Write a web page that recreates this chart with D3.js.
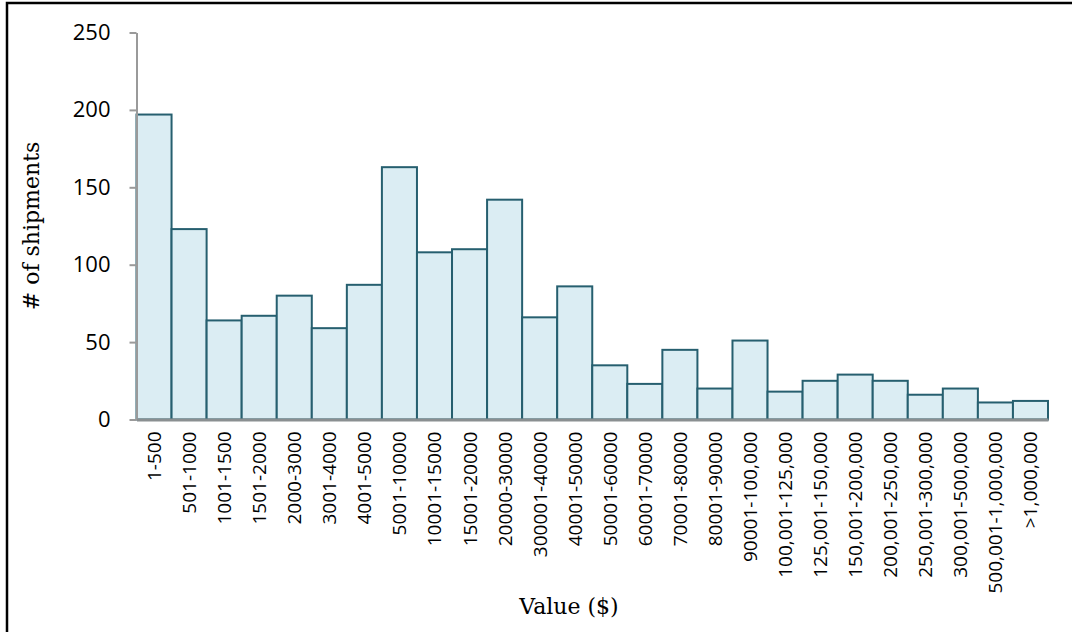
<!DOCTYPE html>
<html>
<head>
<meta charset="utf-8">
<script src="https://cdn.jsdelivr.net/npm/d3@7"></script>
<style>
  html, body { margin: 0; padding: 0; background: #fff; }
  svg { display: block; }
</style>
</head>
<body>
<svg id="chart" width="1072" height="632"></svg>
<script>
// Shipment counts by declared value band
const categories = [
  "1-500", "501-1000", "1001-1500", "1501-2000", "2000-3000", "3001-4000",
  "4001-5000", "5001-10000", "10001-15000", "15001-20000", "20000-30000",
  "300001-40000", "40001-50000", "50001-60000", "60001-70000", "70001-80000",
  "80001-90000", "90001-100,000", "100,001-125,000", "125,001-150,000",
  "150,001-200,000", "200,001-250,000", "250,001-300,000", "300,001-500,000",
  "500,001-1,000,000", ">1,000,000"
];
const shipments = [
  197, 123, 64, 67, 80, 59, 87, 163, 108, 110, 142, 66, 86,
  35, 23, 45, 20, 51, 18, 25, 29, 25, 16, 20, 11, 12
];
const yTicks = [0, 50, 100, 150, 200, 250];
const xTitle = "Value ($)";
const yTitle = "# of shipments";

const svg = d3.select("#chart");

// outer frame
svg.append("rect")
  .attr("x", 7).attr("y", 3)
  .attr("width", 1080).attr("height", 640)
  .attr("fill", "none")
  .attr("stroke", "#000")
  .attr("stroke-width", 2.5);

const plotLeft = 136.5, plotRight = 1048, plotTop = 32.5, plotBottom = 419.5;

const x = d3.scaleBand().domain(categories).range([plotLeft, plotRight]).padding(0);
const y = d3.scaleLinear().domain([0, 250]).range([plotBottom, plotTop]);

// bars
svg.append("g").selectAll("rect")
  .data(shipments)
  .join("rect")
  .attr("x", (d, i) => x(categories[i]))
  .attr("y", d => y(d))
  .attr("width", x.bandwidth())
  .attr("height", d => y(0) - y(d))
  .attr("fill", "#dbedf3")
  .attr("stroke", "#265f6f")
  .attr("stroke-width", 2);

// y axis
const yAxis = svg.append("g")
  .attr("transform", `translate(${plotLeft},0)`)
  .call(d3.axisLeft(y).tickValues(yTicks).tickSize(7).tickSizeOuter(0).tickPadding(19));
yAxis.select(".domain").attr("stroke", "#9a9a9a").attr("stroke-width", 2);
yAxis.selectAll(".tick line").attr("stroke", "#9a9a9a").attr("stroke-width", 2);
yAxis.selectAll(".tick text")
  .attr("font-family", "'Open Sans', sans-serif")
  .attr("font-size", 22)
  .attr("fill", "#000");

// x axis
const xAxis = svg.append("g")
  .attr("transform", `translate(0,${plotBottom})`)
  .call(d3.axisBottom(x).tickSize(0).tickSizeOuter(0).tickPadding(0));
xAxis.select(".domain").attr("stroke", "#8a8f91").attr("stroke-width", 3);
xAxis.selectAll(".tick text")
  .attr("font-family", "'Open Sans', sans-serif")
  .attr("font-size", 19)
  .attr("fill", "#000")
  .attr("text-anchor", "end")
  .attr("dy", null)
  .attr("y", 0)
  .attr("dominant-baseline", "central")
  .attr("transform", "translate(0,12) rotate(-90)");

// axis titles
svg.append("text")
  .attr("x", 569).attr("y", 614)
  .attr("text-anchor", "middle")
  .attr("font-family", "'DejaVu Serif', serif")
  .attr("font-size", 22)
  .attr("fill", "#000")
  .text(xTitle);

svg.append("text")
  .attr("transform", "translate(39,226) rotate(-90)")
  .attr("text-anchor", "middle")
  .attr("font-family", "'DejaVu Serif', serif")
  .attr("font-size", 22)
  .attr("fill", "#000")
  .text(yTitle);
</script>
</body>
</html>
